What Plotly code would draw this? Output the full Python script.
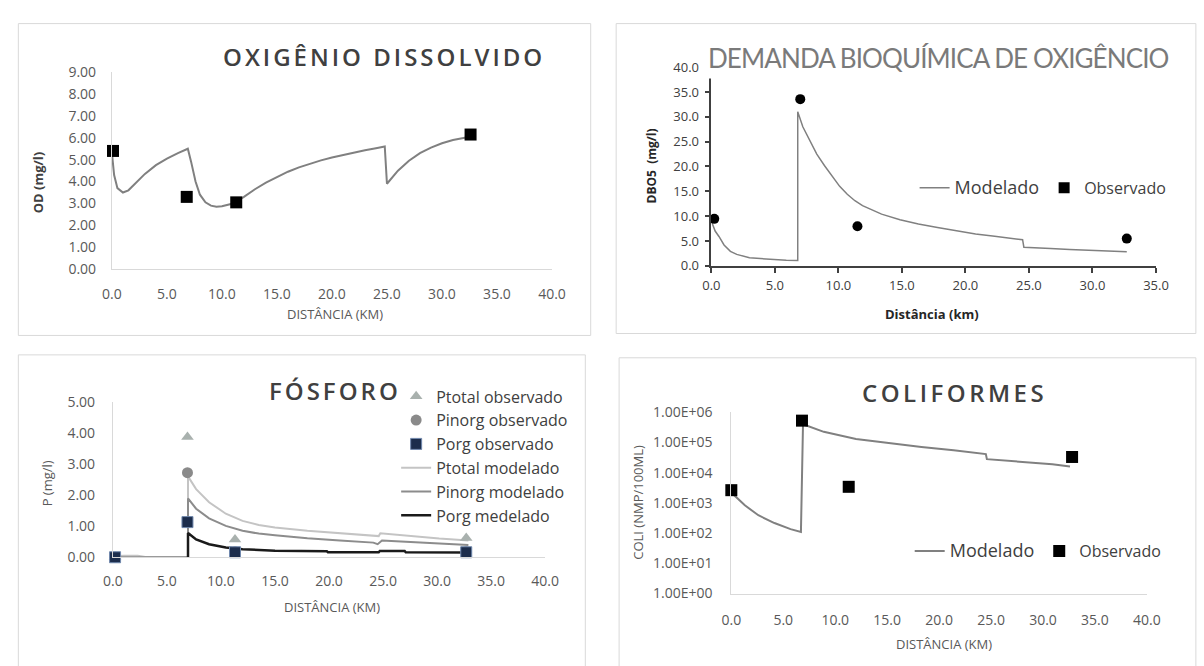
import plotly.graph_objects as go

W, H = 1204, 666

# ---------------- DATA ----------------
# Oxigênio dissolvido
od_mod_km = [0.0, 0.2, 0.5, 1.0, 1.5, 2.0, 3.0, 4.0, 5.0, 6.0, 6.9, 7.2, 7.6, 8.0, 8.5, 9.0, 9.5,
             10.0, 10.5, 11.0, 12.0, 13.0, 14.0, 15.0, 16.0, 17.0, 18.0, 19.0, 20.0, 21.0, 22.0,
             23.0, 24.0, 24.8, 25.0, 25.5, 26.0, 27.0, 28.0, 29.0, 30.0, 31.0, 32.0, 32.8]
od_mod = [5.3, 4.3, 3.7, 3.5, 3.6, 3.85, 4.35, 4.75, 5.05, 5.3, 5.5, 4.9, 4.0, 3.4, 3.05, 2.9, 2.85,
          2.87, 2.92, 3.0, 3.3, 3.65, 3.95, 4.2, 4.45, 4.65, 4.82, 4.97, 5.1, 5.22, 5.33,
          5.43, 5.52, 5.6, 3.9, 4.2, 4.5, 4.95, 5.3, 5.55, 5.75, 5.9, 6.0, 6.07]
od_obs_km = [0.1, 6.8, 11.3, 32.6]
od_obs = [5.4, 3.3, 3.05, 6.15]

# DBO
dbo_mod_km = [0.0, 0.3, 0.6, 1.0, 1.5, 2.0, 3.0, 4.5, 5.9, 6.8, 6.8, 7.2, 7.7, 8.3, 8.9, 9.5, 10.1,
              10.7, 11.3, 11.9, 12.5, 13.4, 14.85, 16.3, 17.8, 19.3, 20.8, 22.3, 23.8, 24.5, 24.6,
              25.5, 26.7, 28.2, 29.7, 31.2, 32.7]
dbo_mod = [9.0, 7.0, 5.9, 4.2, 2.9, 2.3, 1.6, 1.3, 1.1, 1.05, 31.0, 28.0, 25.5, 22.5, 20.2, 18.0, 16.0,
           14.4, 13.1, 12.1, 11.4, 10.4, 9.27, 8.4, 7.7, 7.0, 6.4, 5.95, 5.55, 5.25, 3.75,
           3.6, 3.5, 3.3, 3.1, 2.95, 2.85]
dbo_obs_km = [0.23, 7.0, 11.5, 32.7]
dbo_obs = [9.45, 33.55, 7.95, 5.47]

# Fósforo
p_km_obs = [0.2, 6.9, 11.3, 32.7]
ptotal_obs = [0.0, 3.87, 0.57, 0.62]
pinorg_obs = [0.0, 2.72, 0.18, 0.18]
porg_obs = [0.0, 1.13, 0.16, 0.16]

ptotal_km = [0.0, 1.0, 2.3, 3.0, 6.95, 6.95, 7.7, 8.9, 10.45, 12.0, 13.5, 15.0, 18.0, 21.0, 24.1,
             24.6, 24.75, 27.1, 30.2, 32.9]
ptotal_mod = [0.03, 0.05, 0.05, 0.01, 0.01, 2.6, 2.19, 1.77, 1.4, 1.17, 1.04, 0.96, 0.85, 0.77, 0.70,
              0.68, 0.77, 0.69, 0.6, 0.54]
pinorg_km = [0.0, 6.95, 6.95, 7.7, 8.9, 10.45, 12.0, 13.5, 15.0, 18.0, 21.0, 24.1, 24.5, 24.9, 27.1,
             30.2, 32.9]
pinorg_mod = [0.0, 0.0, 1.89, 1.56, 1.25, 1.01, 0.85, 0.76, 0.71, 0.61, 0.54, 0.47, 0.42, 0.54, 0.5,
              0.44, 0.39]
porg_km = [6.95, 6.95, 7.7, 8.9, 10.45, 12.0, 15.0, 16.9, 17.0, 19.8, 19.9, 24.6, 24.7, 27.0, 27.1, 32.9]
porg_mod = [0.0, 0.78, 0.57, 0.42, 0.31, 0.26, 0.21, 0.21, 0.19, 0.19, 0.16, 0.16, 0.2, 0.2, 0.16, 0.15]

# Coliformes
coli_mod_km = [0.0, 1.3, 2.6, 4.15, 5.7, 6.7, 6.9, 8.9, 12.0, 15.2, 18.3, 21.4, 24.5, 24.6, 27.7, 30.9, 32.6]
coli_mod = [2190, 830, 390, 215, 135, 110, 3.98e5, 2.24e5, 1.29e5, 9.3e4, 7.1e4, 5.5e4, 4.1e4,
            2.8e4, 2.3e4, 1.9e4, 1.6e4]
coli_obs_km = [0.0, 6.8, 11.3, 32.8]
coli_obs = [2630, 5.25e5, 3400, 3.3e4]
coli_tickvals = [1, 10, 100, 1000, 1e4, 1e5, 1e6]
coli_ticktext = ["1.00E+00", "1.00E+01", "1.00E+02", "1.00E+03", "1.00E+04", "1.00E+05", "1.00E+06"]

# ---------------- FIGURE ----------------
def px(x):
    return x / W

def py(y):
    return 1 - y / H

fig = go.Figure()

MOD_BIG = "<span style='font-size:18px'>Modelado</span>"

# Panel 1
fig.add_trace(go.Scatter(x=od_mod_km, y=od_mod, mode="lines", line=dict(color="#808080", width=2),
                         xaxis="x", yaxis="y", showlegend=False, name="Modelado"))
fig.add_trace(go.Scatter(x=od_obs_km, y=od_obs, mode="markers",
                         marker=dict(symbol="square", size=12, color="black"),
                         xaxis="x", yaxis="y", showlegend=False, name="Observado", cliponaxis=False))

# Panel 2
fig.add_trace(go.Scatter(x=dbo_mod_km, y=dbo_mod, mode="lines", line=dict(color="#808080", width=1.5),
                         xaxis="x2", yaxis="y2", name=MOD_BIG, legend="legend"))
fig.add_trace(go.Scatter(x=dbo_obs_km, y=dbo_obs, mode="markers",
                         marker=dict(symbol="circle", size=10, color="black"),
                         xaxis="x2", yaxis="y2", showlegend=False, name="Observado", cliponaxis=False))
fig.add_trace(go.Scatter(x=[None], y=[None], mode="markers",
                         marker=dict(symbol="square", size=11, color="black"),
                         xaxis="x2", yaxis="y2", name="Observado", legend="legend"))

# Panel 3
fig.add_trace(go.Scatter(x=ptotal_km, y=ptotal_mod, mode="lines", line=dict(color="#c4c4c4", width=2),
                         xaxis="x3", yaxis="y3", name="Ptotal modelado", legend="legend2", legendrank=4))
fig.add_trace(go.Scatter(x=pinorg_km, y=pinorg_mod, mode="lines", line=dict(color="#8c8c8c", width=2),
                         xaxis="x3", yaxis="y3", name="Pinorg modelado", legend="legend2", legendrank=5))
fig.add_trace(go.Scatter(x=porg_km, y=porg_mod, mode="lines", line=dict(color="#1a1a1a", width=2.5),
                         xaxis="x3", yaxis="y3", name="Porg medelado", legend="legend2", legendrank=6))
fig.add_trace(go.Scatter(x=p_km_obs, y=ptotal_obs, mode="markers",
                         marker=dict(symbol="triangle-up", size=11, color="#a9b1ae"),
                         xaxis="x3", yaxis="y3", name="Ptotal observado", legend="legend2",
                         legendrank=1, cliponaxis=False))
fig.add_trace(go.Scatter(x=p_km_obs, y=pinorg_obs, mode="markers",
                         marker=dict(symbol="circle", size=11, color="#8a8a8a"),
                         xaxis="x3", yaxis="y3", name="Pinorg observado", legend="legend2",
                         legendrank=2, cliponaxis=False))
fig.add_trace(go.Scatter(x=p_km_obs, y=porg_obs, mode="markers",
                         marker=dict(symbol="square", size=11, color="#1c2d4c",
                                     line=dict(color="#7088ad", width=1)),
                         xaxis="x3", yaxis="y3", name="Porg observado", legend="legend2",
                         legendrank=3, cliponaxis=False))

# Panel 4
fig.add_trace(go.Scatter(x=coli_mod_km, y=coli_mod, mode="lines", line=dict(color="#808080", width=2),
                         xaxis="x4", yaxis="y4", name=MOD_BIG, legend="legend3"))
fig.add_trace(go.Scatter(x=coli_obs_km, y=coli_obs, mode="markers",
                         marker=dict(symbol="square", size=12, color="black"),
                         xaxis="x4", yaxis="y4", name="Observado", legend="legend3", cliponaxis=False))

tickfont = dict(family="Open Sans", size=14, color="#595959")
light = "#d9d9d9"

def excel_axes(xdom, ydom, xr, yr, xfmt, yfmt, xstand, ystand):
    xa = dict(domain=xdom, range=xr, dtick=5, tick0=0, tickformat=xfmt, showline=True,
              linecolor=light, linewidth=1, showgrid=False, zeroline=False, ticks="",
              tickfont=tickfont, ticklabelstandoff=xstand)
    ya = dict(domain=ydom, range=yr, tickformat=yfmt, showline=True, linecolor=light,
              linewidth=1, showgrid=False, zeroline=False, ticks="", tickfont=tickfont,
              ticklabelstandoff=ystand)
    return xa, ya

x1a, y1a = excel_axes([px(104), px(553)], [py(266.7), py(64)], [0, 40], [0, 9], ".1f", ".2f", 12, 12)
y1a.update(dtick=1, tick0=0)
x3a, y3a = excel_axes([px(105), px(546)], [py(563.3), py(403.3)], [0, 40], [0, 5], ".1f", ".2f", 11, 14)
y3a.update(dtick=1, tick0=0)
x4a, y4a = excel_axes([px(736), px(1160)], [py(600.7), py(414)], [0, 40], [0, 6], ".1f", None, 14, 15)
y4a.update(type="log", tickvals=coli_tickvals, ticktext=coli_ticktext)
y4a.pop("tickformat")

dark = "#404040"
dbofont = dict(family="Open Sans", size=13, color="#404040")
x2a = dict(domain=[px(715.6), px(1169.3)], range=[0, 35], dtick=5, tick0=0, tickformat=".1f",
           showline=True, linecolor=dark, linewidth=1.5, showgrid=False, zeroline=False,
           ticks="outside", ticklen=5, tickwidth=1.5, tickcolor=dark, tickfont=dbofont,
           ticklabelstandoff=2, anchor="y2")
y2a = dict(domain=[py(263.3), py(58.8)], range=[0, 40], dtick=5, tick0=0, tickformat=".1f",
           showline=True, linecolor=dark, linewidth=1.5, showgrid=False, zeroline=False,
           ticks="outside", ticklen=5, tickwidth=1.5, tickcolor=dark, tickfont=dbofont,
           ticklabelstandoff=3, anchor="x2")
x5a = dict(overlaying="x2", anchor="y2", range=[0, 35], dtick=5, tick0=0, ticks="inside",
           ticklen=5, tickwidth=1.5, tickcolor=dark, showticklabels=False, showline=False,
           showgrid=False, zeroline=False)
y5a = dict(overlaying="y2", anchor="x2", range=[0, 40], dtick=5, tick0=0, ticks="inside",
           ticklen=5, tickwidth=1.5, tickcolor=dark, showticklabels=False, showline=False,
           showgrid=False, zeroline=False)

x1a["anchor"] = "y"; y1a["anchor"] = "x"
x3a["anchor"] = "y3"; y3a["anchor"] = "x3"
x4a["anchor"] = "y4"; y4a["anchor"] = "x4"

shapes = []
for (l, t, r, b) in [(8.5, 14, 592.5, 335), (618.5, 14, 1210, 333), (8.5, 355, 587, 680), (621.5, 358, 1210, 680)]:
    shapes.append(dict(type="rect", xref="paper", yref="paper", x0=px(l), x1=px(r), y0=py(b), y1=py(t),
                       line=dict(color=light, width=1), fillcolor="rgba(0,0,0,0)", layer="below"))

def ann(text, x, y, size, color, family="Open Sans", weight=400, angle=0, **kw):
    d = dict(text=text, x=px(x), y=py(y), xref="paper", yref="paper", xanchor="center", yanchor="middle",
             showarrow=False, textangle=angle,
             font=dict(family=family, size=size, color=color, weight=weight))
    d.update(kw)
    return d

def spaced(t, sp):
    return "<span style='letter-spacing:%spx'>%s</span>" % (sp, t)

annotations = [
    ann(spaced("OXIGÊNIO DISSOLVIDO", 3), 381.5, 48, 24, "#404040", weight=600),
    ann(spaced("DEMANDA BIOQUÍMICA DE OXIGÊNCIO", -0.9), 947, 49, 26, "#7a7a7a", family="Lato",
        bgcolor="white", borderpad=4),
    ann(spaced("FÓSFORO", 3), 332, 392, 24, "#404040", weight=600),
    ann(spaced("COLIFORMES", 3.5), 964, 394, 24, "#404040", weight=600),
    ann("OD (mg/l)", 29, 177, 13, "#404040", weight=700, angle=-90),
    ann("DISTÂNCIA (KM)", 332, 313, 13, "#595959"),
    ann("DBO5  (mg/l)", 654, 160, 12, "#262626", weight=700, angle=-90),
    ann("Distância (km)", 941, 313, 13, "#262626", weight=700),
    ann("P (mg/l)", 38, 487, 13, "#595959", angle=-90),
    ann("DISTÂNCIA (KM)", 329, 615, 13, "#595959"),
    ann("COLI (NMP/100ML)", 640, 507, 13, "#595959", angle=-90),
    ann("DISTÂNCIA (KM)", 952.5, 653, 13, "#595959"),
]

legfont = dict(family="Open Sans", size=16, color="#404040")
fig.update_layout(
    width=W, height=H, margin=dict(l=0, r=0, t=0, b=0, pad=0),
    paper_bgcolor="white", plot_bgcolor="rgba(0,0,0,0)",
    xaxis=x1a, yaxis=y1a, xaxis2=x2a, yaxis2=y2a, xaxis3=x3a, yaxis3=y3a,
    xaxis4=x4a, yaxis4=y4a, xaxis5=x5a, yaxis5=y5a,
    shapes=shapes, annotations=annotations,
    legend=dict(orientation="h", x=px(923), y=py(183), xanchor="left", yanchor="middle",
                font=legfont, bgcolor="rgba(0,0,0,0)"),
    legend2=dict(orientation="v", x=px(394), y=py(459), xanchor="left", yanchor="middle",
                 font=dict(family="Open Sans", size=16, color="#404040"), bgcolor="rgba(0,0,0,0)",
                 traceorder="normal"),
    legend3=dict(orientation="h", x=px(918), y=py(557), xanchor="left", yanchor="middle",
                 font=legfont, bgcolor="rgba(0,0,0,0)"),
)

fig.write_html("out.html",
               post_script="document.body.style.margin='0';document.body.style.padding='0';"
                           "document.body.style.overflow='hidden';")
